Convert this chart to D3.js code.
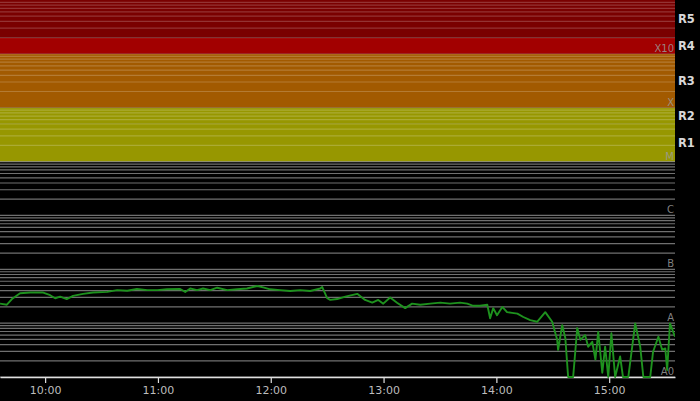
<!DOCTYPE html>
<html><head><meta charset="utf-8">
<script src="https://cdn.jsdelivr.net/npm/d3@7"></script>
<style>
html,body{margin:0;padding:0;background:#000;}
svg{display:block;}
</style></head>
<body>
<svg id="chart" width="700" height="401"></svg>
<script>
// ---- data ----
const times = ["09:36:00","09:39:40","09:42:20","09:46:40","09:52:00","09:59:00","10:02:40","10:05:20","10:08:00","10:11:30",
"10:14:50","10:20:10","10:25:30","10:33:00","10:38:20","10:43:40","10:48:50","10:54:20","10:59:40","11:04:50",
"11:11:50","11:14:30","11:17:10","11:20:50","11:24:00","11:27:50","11:31:30","11:36:50","11:42:10","11:47:20",
"11:52:50","11:56:00","11:59:40","12:05:00","12:10:20","12:15:40","12:21:00","12:26:20","12:27:20","12:30:00",
"12:31:40","12:35:20","12:39:40","12:46:00","12:50:10","12:54:00","12:57:10","12:59:50","13:03:30","13:07:10",
"13:11:30","13:15:10","13:19:30","13:24:50","13:30:10","13:35:20","13:40:40","13:44:30","13:47:40","13:51:20",
"13:55:10","13:56:40","13:58:20","14:00:20","14:03:10","14:05:40","14:08:20","14:11:10","14:14:20","14:18:00",
"14:21:40","14:26:00","14:29:40","14:32:20","14:32:50","14:35:00","14:36:40","14:38:10","14:40:50","14:43:00",
"14:44:40","14:47:10","14:48:50","14:51:00","14:52:40","14:54:10","14:56:20","14:57:50","14:59:30","15:01:10",
"15:03:10","15:05:50","15:07:20","15:10:10","15:13:50","15:16:30","15:18:10","15:21:50","15:23:20","15:26:10",
"15:28:10","15:29:50","15:30:50","15:32:20","15:35:00"];
const flux = [2.3e-8,2.2e-8,2.8e-8,3.6e-8,3.7e-8,3.7e-8,3.3e-8,2.9e-8,3.1e-8,2.8e-8,
3.2e-8,3.5e-8,3.7e-8,3.8e-8,4.1e-8,4.0e-8,4.3e-8,4.1e-8,4.1e-8,4.25e-8,
4.3e-8,3.8e-8,4.4e-8,4.1e-8,4.4e-8,4.1e-8,4.55e-8,4.1e-8,4.25e-8,4.4e-8,
4.9e-8,4.6e-8,4.25e-8,4.1e-8,3.95e-8,4.1e-8,3.95e-8,4.4e-8,4.7e-8,2.9e-8,
2.7e-8,2.8e-8,3.1e-8,3.5e-8,2.7e-8,2.4e-8,2.7e-8,2.3e-8,3.0e-8,2.4e-8,
1.9e-8,2.3e-8,2.2e-8,2.3e-8,2.4e-8,2.3e-8,2.4e-8,2.3e-8,2.1e-8,2.1e-8,
2.2e-8,1.23e-8,1.9e-8,1.4e-8,2.0e-8,1.6e-8,1.55e-8,1.5e-8,1.3e-8,1.14e-8,
1.06e-8,1.6e-8,1.06e-8,4.9e-9,3.2e-9,9.2e-9,5.3e-9,1.0e-9,1.0e-9,8.1e-9,
4.9e-9,6.0e-9,3.65e-9,4.5e-9,2.1e-9,6.9e-9,1.2e-9,3.65e-9,1.0e-9,6.5e-9,
1.0e-9,2.4e-9,1.0e-9,1.0e-9,9.9e-9,3.65e-9,1.0e-9,1.0e-9,2.95e-9,5.6e-9,
3.2e-9,3.4e-9,1.35e-9,9.9e-9,5.6e-9];
const timeStart = "09:36:00", timeEnd = "15:35:00";
const classLabels = ["A0","A","B","C","M","X","X10"];
const classValues = [1e-9,1e-8,1e-7,1e-6,1e-5,1e-4,1e-3];
const scaleLabels = ["R1","R2","R3","R4","R5"];
const scaleBounds = [1e-5,5e-5,1e-4,1e-3,2e-3,1e-2];
const bandColors = ["#979700","#979700","#a25a00","#a20000","#7a0000"];

// ---- chart ----
const W = 675, H = 377;
const svg = d3.select("#chart");
svg.append("rect").attr("width",700).attr("height",401).attr("fill","#000");
const parse = d3.timeParse("%H:%M:%S");
const x = d3.scaleTime().domain([parse(timeStart), parse(timeEnd)]).range([0, W]);
const y = d3.scaleLog().domain([1e-9, 1e-2]).range([H, 0]);

// bands
svg.append("g").selectAll("rect").data(scaleLabels).join("rect")
  .attr("x",0).attr("width",W)
  .attr("y",(d,i)=>y(scaleBounds[i+1]))
  .attr("height",(d,i)=>y(scaleBounds[i])-y(scaleBounds[i+1]))
  .attr("fill",(d,i)=>bandColors[i]);

// gridlines
const gridVals = [];
for (let e=-9; e<=-3; e++) for (let k=1;k<=9;k++) gridVals.push(k*Math.pow(10,e));
svg.append("g").selectAll("line").data(gridVals).join("line")
  .attr("x1",0).attr("x2",W)
  .attr("y1",d=>y(d)).attr("y2",d=>y(d))
  .attr("stroke",d=>d>1.01e-5?"#ffffff":"#b4b4b4")
  .attr("stroke-opacity",d=>d>1.01e-5?0.2:0.62)
  .attr("stroke-width",1.2);

// class labels
svg.append("g").selectAll("text").data(classLabels).join("text")
  .attr("x",W-1).attr("y",(d,i)=>y(classValues[i])-2)
  .attr("text-anchor","end")
  .attr("font-family","DejaVu Sans, sans-serif").attr("font-size",10)
  .attr("fill","#9a9a9a").attr("fill-opacity",0.85)
  .text(d=>d);

// x axis
const xAxis = d3.axisBottom(x).ticks(d3.timeHour.every(1))
  .tickFormat(d3.timeFormat("%H:%M")).tickSize(6).tickSizeOuter(0);
const gx = svg.append("g").attr("transform",`translate(0,${H})`).call(xAxis);
gx.select(".domain").attr("stroke","#e0e0e0").attr("stroke-width",1.5);
gx.selectAll(".tick line").attr("stroke","#e0e0e0").attr("stroke-width",1.2);
gx.selectAll(".tick text").attr("fill","#bdbdbd").attr("font-size",11)
  .attr("font-family","DejaVu Sans, sans-serif");

// flux line
svg.append("clipPath").attr("id","clip").append("rect")
  .attr("x",0).attr("y",0).attr("width",W).attr("height",H+1);
const data = times.map((t,i)=>({t:parse(t), v:flux[i]}));
const line = d3.line().x(d=>x(d.t)).y(d=>y(d.v));
svg.append("path").datum(data).attr("clip-path","url(#clip)")
  .attr("d",line).attr("fill","none").attr("stroke-linejoin","round")
  .attr("stroke","#1e921e").attr("stroke-width",1.9);

// R scale labels
svg.append("g").selectAll("text").data(scaleLabels).join("text")
  .attr("x",678)
  .attr("y",(d,i)=>(y(scaleBounds[i])+y(scaleBounds[i+1]))/2)
  .attr("dy","0.35em")
  .attr("font-family","DejaVu Sans, sans-serif").attr("font-size",11.5)
  .attr("font-weight","bold").attr("fill","#d8d8d8")
  .text(d=>d);
</script>
</body></html>
